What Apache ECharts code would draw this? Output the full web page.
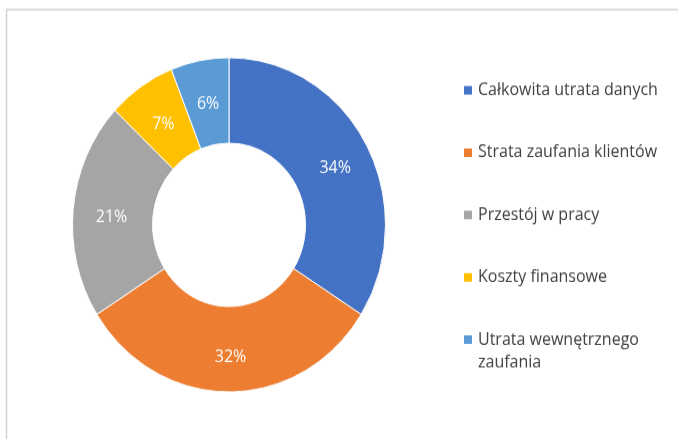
<!DOCTYPE html>
<html>
<head>
<meta charset="utf-8">
<script src="https://cdn.jsdelivr.net/npm/echarts@6/dist/echarts.min.js"></script>
<style>
html,body{margin:0;padding:0;background:#fff;overflow:hidden;width:678px;height:439px;}
#wrap{width:678px;height:411px;transform:scaleY(1.068);transform-origin:0 0;}
#chart{width:678px;height:411px;}
</style>
</head>
<body>
<div id="wrap"><div id="chart"></div></div>
<script>
const categories = ["Całkowita utrata danych", "Strata zaufania klientów", "Przestój w pracy", "Koszty finansowe", "Utrata wewnętrznego zaufania"];
const values = [34, 32, 21, 7, 6];
const colors = ["#4472C4", "#ED7D31", "#A5A5A5", "#FFC000", "#5B9BD5"];

const chart = echarts.init(document.getElementById('chart'), null, {renderer: 'canvas'});
const data = categories.map((c, i) => ({name: c, value: values[i], itemStyle: {color: colors[i]}}));
const legendText = {color: '#404040', fontSize: 16, fontFamily: 'Open Sans', lineHeight: 21};
const legendBase = {
  orient: 'vertical',
  left: 462,
  padding: 0,
  itemWidth: 10,
  itemHeight: 10,
  itemGap: 37.4,
  selectedMode: false,
  icon: 'rect',
  textStyle: legendText
};
chart.setOption({
  animation: false,
  backgroundColor: '#ffffff',
  graphic: [{
    type: 'rect',
    shape: {x: 6.5, y: 9, width: 720, height: 500},
    style: {fill: 'none', stroke: '#d2d2d2', lineWidth: 1.5},
    silent: true
  }],
  legend: [
    Object.assign({}, legendBase, {top: 74, data: categories.slice(0, 4)}),
    Object.assign({}, legendBase, {
      top: 286.5,
      data: categories.slice(4),
      formatter: function (n) { return "\nUtrata wewnętrznego\nzaufania"; }
    })
  ],
  series: [{
    type: 'pie',
    center: [229, 210.5],
    radius: [76.5, 156.5],
    startAngle: 90,
    clockwise: true,
    avoidLabelOverlap: false,
    silent: true,
    data: data,
    itemStyle: {borderColor: '#ffffff', borderWidth: 1},
    label: {
      show: true,
      position: 'inside',
      formatter: '{c}%',
      color: '#ffffff',
      fontSize: 16,
      fontFamily: 'Open Sans'
    },
    labelLayout: {dy: 4.5, dx: 1.5},
    labelLine: {show: false},
    emphasis: {disabled: true}
  }]
});
</script>
</body>
</html>
